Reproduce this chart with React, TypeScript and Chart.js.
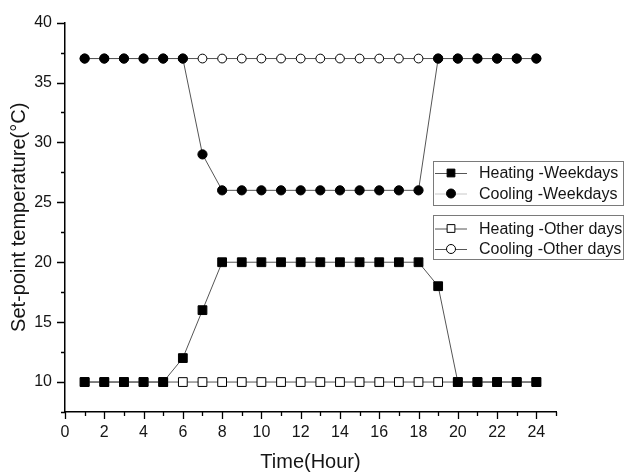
import React, { useEffect, useRef } from 'react';
import { Chart, registerables } from 'chart.js';

Chart.register(...registerables);

const hours = [1, 2, 3, 4, 5, 6, 7, 8, 9, 10, 11, 12, 13, 14, 15, 16, 17, 18, 19, 20, 21, 22, 23, 24];
const heatingWeekdays = [10, 10, 10, 10, 10, 12, 16, 20, 20, 20, 20, 20, 20, 20, 20, 20, 20, 20, 18, 10, 10, 10, 10, 10];
const coolingWeekdays = [37, 37, 37, 37, 37, 37, 29, 26, 26, 26, 26, 26, 26, 26, 26, 26, 26, 26, 37, 37, 37, 37, 37, 37];
const heatingOtherDays = [10, 10, 10, 10, 10, 10, 10, 10, 10, 10, 10, 10, 10, 10, 10, 10, 10, 10, 10, 10, 10, 10, 10, 10];
const coolingOtherDays = [37, 37, 37, 37, 37, 37, 37, 37, 37, 37, 37, 37, 37, 37, 37, 37, 37, 37, 37, 37, 37, 37, 37, 37];

const xMajorTicks = [0, 2, 4, 6, 8, 10, 12, 14, 16, 18, 20, 22, 24];
const xMinorTicks = [1, 3, 5, 7, 9, 11, 13, 15, 17, 19, 21, 23, 25];
const yMajorTicks = [10, 15, 20, 25, 30, 35, 40];
const yMinorTicks = [7.5, 12.5, 17.5, 22.5, 27.5, 32.5, 37.5];

const xTitle = 'Time(Hour)';
const yTitle = 'Set-point temperature(°C)';
const legendLabels = ['Heating -Weekdays', 'Cooling -Weekdays', 'Heating -Other days', 'Cooling -Other days'];

const FONT = '"Liberation Sans", Arial, sans-serif';
const TEXT = '#151515';

function drawMarker(ctx: CanvasRenderingContext2D, style: string, filled: boolean, x: number, y: number, r: number) {
  ctx.beginPath();
  if (style === 'rect') {
    const s = r * Math.SQRT1_2;
    ctx.rect(x - s, y - s, 2 * s, 2 * s);
  } else {
    ctx.arc(x, y, r, 0, Math.PI * 2);
  }
  ctx.fillStyle = filled ? '#000' : '#fff';
  ctx.fill();
  ctx.strokeStyle = '#000';
  ctx.lineWidth = 1;
  ctx.stroke();
}

const customPlugin = {
  id: 'customAxes',
  afterDraw(chart: any) {
    const { ctx, chartArea } = chart;
    const x = chart.scales.x;
    const y = chart.scales.y;
    ctx.save();
    ctx.strokeStyle = '#000';
    ctx.lineWidth = 1.3;
    ctx.beginPath();
    for (const v of xMajorTicks) {
      const px = Math.round(x.getPixelForValue(v)) + 0.5;
      ctx.moveTo(px, chartArea.bottom);
      ctx.lineTo(px, chartArea.bottom + 7);
    }
    for (const v of xMinorTicks) {
      const px = Math.round(x.getPixelForValue(v)) + 0.5;
      ctx.moveTo(px, chartArea.bottom);
      ctx.lineTo(px, chartArea.bottom + 4);
    }
    for (const v of yMajorTicks) {
      const py = Math.round(y.getPixelForValue(v)) + 0.5;
      ctx.moveTo(chartArea.left, py);
      ctx.lineTo(chartArea.left - 8, py);
    }
    for (const v of yMinorTicks) {
      const py = Math.round(y.getPixelForValue(v)) + 0.5;
      ctx.moveTo(chartArea.left, py);
      ctx.lineTo(chartArea.left - 4, py);
    }
    ctx.stroke();

    // axis titles
    ctx.fillStyle = TEXT;
    ctx.font = '20px ' + FONT;
    ctx.textAlign = 'center';
    ctx.textBaseline = 'middle';
    ctx.fillText(xTitle, (chartArea.left + chartArea.right) / 2, 462);
    ctx.save();
    ctx.translate(19, (chartArea.top + chartArea.bottom) / 2);
    ctx.rotate(-Math.PI / 2);
    ctx.fillText(yTitle, 0, 0);
    ctx.restore();

    // legend boxes
    ctx.strokeStyle = '#7a7a7a';
    ctx.lineWidth = 1;
    ctx.strokeRect(433.5, 161.5, 190, 44);
    ctx.strokeRect(433.5, 215.5, 190, 44);
    const rows = [173, 193.5, 228.5, 249];
    const dsets = chart.data.datasets;
    for (let i = 0; i < 4; i++) {
      const ds = dsets[i];
      const ry = rows[i];
      ctx.strokeStyle = i === 1 ? '#c8c8c8' : '#555';
      ctx.lineWidth = 1;
      ctx.beginPath();
      ctx.moveTo(435, ry + 0.5);
      ctx.lineTo(467, ry + 0.5);
      ctx.stroke();
      drawMarker(ctx, ds.pointStyle, ds.pointBackgroundColor === '#000', 451, ry, ds.pointStyle === 'rect' ? 5.5 : 4.5);
      ctx.fillStyle = TEXT;
      ctx.font = '16px ' + FONT;
      ctx.textAlign = 'left';
      ctx.textBaseline = 'middle';
      ctx.fillText(legendLabels[i], 479, ry + 1);
    }
    ctx.restore();
  },
};

export default function App() {
  const ref = useRef<HTMLCanvasElement | null>(null);
  useEffect(() => {
    if (!ref.current) return;
    const mk = (label: string, data: number[], style: string, filled: boolean, r: number) => ({
      label,
      data: hours.map((h, i) => ({ x: h, y: data[i] })),
      borderColor: '#555',
      borderWidth: 1,
      pointStyle: style,
      pointRadius: r,
      pointBackgroundColor: filled ? '#000' : '#fff',
      pointBorderColor: '#000',
      pointBorderWidth: 1,
      showLine: true,
      tension: 0,
    });
    const chart = new Chart(ref.current, {
      type: 'scatter',
      data: {
        datasets: [
          mk(legendLabels[0], heatingWeekdays, 'rect', true, 6.2),
          mk(legendLabels[1], coolingWeekdays, 'circle', true, 4.6),
          mk(legendLabels[2], heatingOtherDays, 'rect', false, 6.2),
          mk(legendLabels[3], coolingOtherDays, 'circle', false, 4.4),
        ],
      },
      options: {
        animation: false,
        responsive: false,
        layout: { padding: { left: 0, right: 73, top: 15, bottom: 0 } },
        plugins: { legend: { display: false }, tooltip: { enabled: false } },
        scales: {
          x: {
            type: 'linear',
            min: 0,
            max: 25,
            afterBuildTicks: (s: any) => { s.ticks = xMajorTicks.map((v) => ({ value: v })); },
            afterFit: (s: any) => { s.height = 63; },
            grid: { display: false, drawTicks: false },
            border: { display: true, color: '#000', width: 1.5 },
            ticks: { padding: 11, autoSkip: false, maxRotation: 0, color: TEXT, font: { family: FONT, size: 16 } },
          },
          y: {
            type: 'linear',
            min: 7.5,
            max: 40,
            afterBuildTicks: (s: any) => { s.ticks = yMajorTicks.map((v) => ({ value: v })); },
            afterFit: (s: any) => { s.width = 65; },
            grid: { display: false, drawTicks: false },
            border: { display: true, color: '#000', width: 1.5 },
            ticks: { padding: 13, color: TEXT, font: { family: FONT, size: 16 } },
          },
        },
      },
      plugins: [customPlugin],
    } as any);
    return () => chart.destroy();
  }, []);
  return (
    <div style={{ position: 'absolute', left: 0, top: 0, width: 629, height: 475, background: '#fff' }}>
      <canvas ref={ref} width={629} height={475} style={{ width: 629, height: 475 }} />
    </div>
  );
}
